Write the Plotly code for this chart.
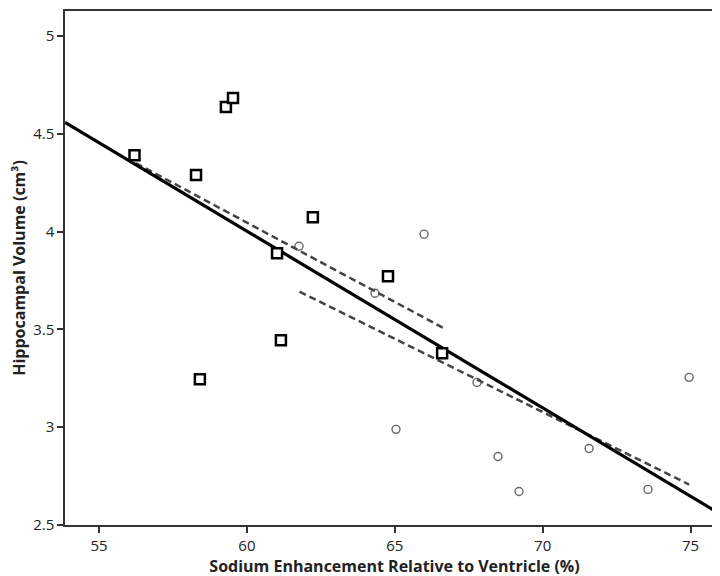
import plotly.graph_objects as go

# Group 1 (squares)
sq_x = [56.2, 58.28, 59.29, 59.53, 62.23, 61.02, 61.15, 58.41, 64.77, 66.6]
sq_y = [4.39, 4.289, 4.637, 4.683, 4.074, 3.89, 3.444, 3.245, 3.772, 3.378]

# Group 2 (circles)
ci_x = [61.76, 65.99, 64.33, 67.78, 65.04, 68.49, 69.2, 71.57, 73.56, 74.95]
ci_y = [3.925, 3.987, 3.685, 3.229, 2.989, 2.85, 2.671, 2.891, 2.682, 3.255]

# Fit lines (endpoints)
fit_all_x = [53.85, 76.13]
fit_all_y = [4.558, 2.545]
fit_sq_x = [56.25, 66.71]
fit_sq_y = [4.35, 3.502]
fit_ci_x = [61.78, 74.95]
fit_ci_y = [3.693, 2.707]

x_ticks = [55, 60, 65, 70, 75]
y_ticks = [2.5, 3, 3.5, 4, 4.5, 5]

fig = go.Figure()
fig.add_trace(go.Scatter(x=ci_x, y=ci_y, mode="markers",
                         marker=dict(symbol="circle-open", size=8, color="#666666",
                                     line=dict(width=1.4, color="#666666"))))
fig.add_trace(go.Scatter(x=fit_sq_x, y=fit_sq_y, mode="lines",
                         line=dict(color="#444444", width=2.5, dash="7px,4px")))
fig.add_trace(go.Scatter(x=fit_ci_x, y=fit_ci_y, mode="lines",
                         line=dict(color="#444444", width=2.5, dash="7px,4px")))
fig.add_trace(go.Scatter(x=fit_all_x, y=fit_all_y, mode="lines",
                         line=dict(color="black", width=3.2)))
fig.add_trace(go.Scatter(x=sq_x, y=sq_y, mode="markers",
                         marker=dict(symbol="square", size=10, color="white",
                                     line=dict(width=2.5, color="black"))))

fig.update_layout(
    width=720, height=576,
    margin=dict(l=57, r=4, t=3, b=59),
    paper_bgcolor="white", plot_bgcolor="white",
    showlegend=False,
    font=dict(family="Open Sans", color="#222222", size=15),
)
fig.update_xaxes(range=[53.85, 76.13], tickvals=x_ticks, ticktext=[str(v) for v in x_ticks],
                 ticks="outside", ticklen=6, tickwidth=1.5, tickcolor="#333333",
                 showline=True, linecolor="#333333", linewidth=1.5, mirror=True,
                 showgrid=False, zeroline=False, automargin=False,
                 title=dict(text="<b>Sodium Enhancement Relative to Ventricle (%)</b>",
                            font=dict(size=16, family="Open Sans"), standoff=0))
fig.update_yaxes(range=[2.5, 5.128], tickvals=y_ticks, ticktext=["2.5", "3", "3.5", "4", "4.5", "5"],
                 ticks="outside", ticklen=6, tickwidth=1.5, tickcolor="#333333",
                 showline=True, linecolor="#333333", linewidth=1.5, mirror=True,
                 showgrid=False, zeroline=False, automargin=False,
                 title=dict(text="<b>Hippocampal Volume (cm³)</b>",
                            font=dict(size=16, family="Open Sans"), standoff=6))

fig.write_html("out.html")
